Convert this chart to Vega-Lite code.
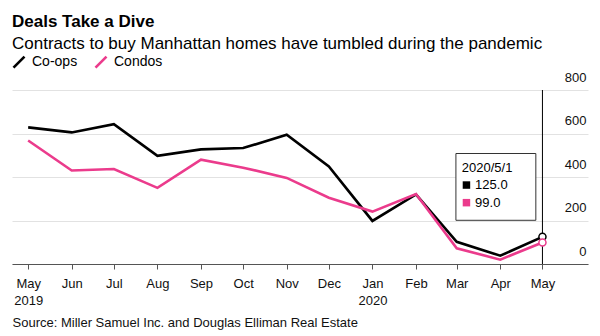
{
  "$schema": "https://vega.github.io/schema/vega-lite/v6.json",
  "width": 576,
  "height": 174,
  "autosize": {"type": "none"},
  "padding": {"left": 12, "right": 12, "top": 90, "bottom": 72},
  "background": "white",
  "title": {
    "text": "Deals Take a Dive",
    "subtitle": "Contracts to buy Manhattan homes have tumbled during the pandemic",
    "anchor": "start",
    "frame": "group",
    "font": "Liberation Sans",
    "fontSize": 17,
    "fontWeight": "bold",
    "color": "#000000",
    "subtitleFont": "Liberation Sans",
    "subtitleFontSize": 17,
    "subtitleColor": "#000000",
    "subtitlePadding": 5,
    "offset": 2
  },
  "config": {
    "view": {"stroke": null},
    "font": "Liberation Sans"
  },
  "data": {
    "values": [
      {"date": "2019-05-01", "series": "Co-ops", "value": 628},
      {"date": "2019-06-01", "series": "Co-ops", "value": 605},
      {"date": "2019-07-01", "series": "Co-ops", "value": 643},
      {"date": "2019-08-01", "series": "Co-ops", "value": 497},
      {"date": "2019-09-01", "series": "Co-ops", "value": 527},
      {"date": "2019-10-01", "series": "Co-ops", "value": 533},
      {"date": "2019-11-01", "series": "Co-ops", "value": 594},
      {"date": "2019-12-01", "series": "Co-ops", "value": 449},
      {"date": "2020-01-01", "series": "Co-ops", "value": 198},
      {"date": "2020-02-01", "series": "Co-ops", "value": 320},
      {"date": "2020-03-01", "series": "Co-ops", "value": 102},
      {"date": "2020-04-01", "series": "Co-ops", "value": 38},
      {"date": "2020-05-01", "series": "Co-ops", "value": 125},
      {"date": "2019-05-01", "series": "Condos", "value": 568},
      {"date": "2019-06-01", "series": "Condos", "value": 430},
      {"date": "2019-07-01", "series": "Condos", "value": 437},
      {"date": "2019-08-01", "series": "Condos", "value": 350},
      {"date": "2019-09-01", "series": "Condos", "value": 480},
      {"date": "2019-10-01", "series": "Condos", "value": 443},
      {"date": "2019-11-01", "series": "Condos", "value": 396},
      {"date": "2019-12-01", "series": "Condos", "value": 305},
      {"date": "2020-01-01", "series": "Condos", "value": 241},
      {"date": "2020-02-01", "series": "Condos", "value": 322},
      {"date": "2020-03-01", "series": "Condos", "value": 72},
      {"date": "2020-04-01", "series": "Condos", "value": 20},
      {"date": "2020-05-01", "series": "Condos", "value": 99}
    ]
  },
  "encoding": {
    "x": {
      "field": "date",
      "type": "temporal",
      "scale": {
        "type": "utc",
        "domain": [
          {"year": 2019, "month": 4, "date": 19, "hours": 12, "utc": true},
          {"year": 2020, "month": 6, "date": 2, "hours": 10, "utc": true}
        ]
      },
      "axis": {
        "values": [
          {"year": 2019, "month": 5, "date": 1, "utc": true},
          {"year": 2019, "month": 6, "date": 1, "utc": true},
          {"year": 2019, "month": 7, "date": 1, "utc": true},
          {"year": 2019, "month": 8, "date": 1, "utc": true},
          {"year": 2019, "month": 9, "date": 1, "utc": true},
          {"year": 2019, "month": 10, "date": 1, "utc": true},
          {"year": 2019, "month": 11, "date": 1, "utc": true},
          {"year": 2019, "month": 12, "date": 1, "utc": true},
          {"year": 2020, "month": 1, "date": 1, "utc": true},
          {"year": 2020, "month": 2, "date": 1, "utc": true},
          {"year": 2020, "month": 3, "date": 1, "utc": true},
          {"year": 2020, "month": 4, "date": 1, "utc": true},
          {"year": 2020, "month": 5, "date": 1, "utc": true}
        ],
        "labelExpr": "(utcmonth(datum.value) == 0 || (utcmonth(datum.value) == 4 && utcyear(datum.value) == 2019)) ? [utcFormat(datum.value, '%b'), utcFormat(datum.value, '%Y')] : utcFormat(datum.value, '%b')",
        "grid": false,
        "domainColor": "#555555",
        "tickColor": "#555555",
        "tickSize": 5,
        "labelFont": "Liberation Sans",
        "labelFontSize": 13,
        "labelColor": "#111111",
        "labelPadding": 8,
        "labelLineHeight": 17,
        "labelFlush": false,
        "labelOverlap": false,
        "title": "Source: Miller Samuel Inc. and Douglas Elliman Real Estate",
        "titleAnchor": "start",
        "titleAlign": "left",
        "titleFont": "Liberation Sans",
        "titleFontSize": 13,
        "titleFontWeight": "normal",
        "titleColor": "#111111",
        "titlePadding": 9
      }
    },
    "y": {
      "field": "value",
      "type": "quantitative",
      "scale": {"domain": [0, 800], "nice": false},
      "axis": {
        "orient": "right",
        "values": [0, 200, 400, 600, 800],
        "domain": false,
        "ticks": false,
        "grid": true,
        "gridColor": "#e2e2e2",
        "gridWidth": 1,
        "labelAlign": "right",
        "labelBaseline": "alphabetic",
        "labelPadding": -2,
        "labelOffset": -9,
        "labelFont": "Liberation Sans",
        "labelFontSize": 13,
        "labelColor": "#111111",
        "title": null
      }
    }
  },
  "layer": [
    {
      "mark": {"type": "line", "strokeWidth": 2.6},
      "encoding": {
        "color": {
          "field": "series",
          "type": "nominal",
          "scale": {"domain": ["Co-ops", "Condos"], "range": ["#000000", "#eb3b8c"]},
          "legend": {
            "orient": "none",
            "legendX": 0,
            "legendY": -35,
            "direction": "horizontal",
            "title": null,
            "symbolType": "M-1,1L1,-1",
            "symbolSize": 121,
            "symbolStrokeWidth": 2.6,
            "labelFont": "Liberation Sans",
            "labelFontSize": 14,
            "labelColor": "#000000",
            "labelOffset": 6,
            "columnPadding": 12,
            "padding": 0
          }
        }
      }
    },
    {
      "transform": [{"filter": "time(datum.date) == utc(2020, 4, 1) && datum.series == 'Co-ops'"}],
      "mark": {"type": "rule", "color": "#000000", "strokeWidth": 1},
      "encoding": {
        "y": {"datum": 800},
        "y2": {"datum": 0}
      }
    },
    {
      "transform": [{"filter": "time(datum.date) == utc(2020, 4, 1)"}],
      "mark": {"type": "point", "shape": "circle", "size": 50, "filled": false, "fill": "#ffffff", "fillOpacity": 1, "strokeWidth": 1.5, "opacity": 1},
      "encoding": {
        "stroke": {
          "field": "series",
          "type": "nominal",
          "scale": {"domain": ["Co-ops", "Condos"], "range": ["#000000", "#eb3b8c"]},
          "legend": null
        }
      }
    },
    {
      "transform": [{"filter": "time(datum.date) == utc(2020, 4, 1) && datum.series == 'Co-ops'"}],
      "mark": {"type": "rect", "fill": "#ffffff", "stroke": "#333333", "strokeWidth": 1},
      "encoding": {
        "x": {"datum": {"year": 2020, "month": 2, "date": 29, "hours": 10, "utc": true}, "type": "temporal"},
        "x2": {"datum": {"year": 2020, "month": 4, "date": 26, "hours": 7, "utc": true}},
        "y": {"datum": 508},
        "y2": {"datum": 201}
      }
    },
    {
      "transform": [{"filter": "time(datum.date) == utc(2020, 4, 1) && datum.series == 'Co-ops'"}],
      "mark": {"type": "text", "align": "left", "baseline": "middle", "fontSize": 13, "font": "Liberation Sans", "color": "#000000"},
      "encoding": {
        "x": {"datum": {"year": 2020, "month": 3, "date": 4, "hours": 14, "utc": true}, "type": "temporal"},
        "y": {"datum": 442},
        "text": {"value": "2020/5/1"}
      }
    },
    {
      "transform": [{"filter": "time(datum.date) == utc(2020, 4, 1) && datum.series == 'Co-ops'"}],
      "mark": {"type": "point", "shape": "square", "size": 56, "filled": true, "color": "#000000", "opacity": 1},
      "encoding": {
        "x": {"datum": {"year": 2020, "month": 3, "date": 7, "hours": 22, "utc": true}, "type": "temporal"},
        "y": {"datum": 363}
      }
    },
    {
      "transform": [{"filter": "time(datum.date) == utc(2020, 4, 1) && datum.series == 'Co-ops'"}],
      "mark": {"type": "text", "align": "left", "baseline": "middle", "fontSize": 13, "font": "Liberation Sans", "color": "#000000"},
      "encoding": {
        "x": {"datum": {"year": 2020, "month": 3, "date": 14, "hours": 2, "utc": true}, "type": "temporal"},
        "y": {"datum": 363},
        "text": {"field": "value", "type": "quantitative", "format": ".1f"}
      }
    },
    {
      "transform": [{"filter": "time(datum.date) == utc(2020, 4, 1) && datum.series == 'Condos'"}],
      "mark": {"type": "point", "shape": "square", "size": 56, "filled": true, "color": "#eb3b8c", "opacity": 1},
      "encoding": {
        "x": {"datum": {"year": 2020, "month": 3, "date": 7, "hours": 22, "utc": true}, "type": "temporal"},
        "y": {"datum": 282}
      }
    },
    {
      "transform": [{"filter": "time(datum.date) == utc(2020, 4, 1) && datum.series == 'Condos'"}],
      "mark": {"type": "text", "align": "left", "baseline": "middle", "fontSize": 13, "font": "Liberation Sans", "color": "#000000"},
      "encoding": {
        "x": {"datum": {"year": 2020, "month": 3, "date": 14, "hours": 2, "utc": true}, "type": "temporal"},
        "y": {"datum": 282},
        "text": {"field": "value", "type": "quantitative", "format": ".1f"}
      }
    }
  ]
}
